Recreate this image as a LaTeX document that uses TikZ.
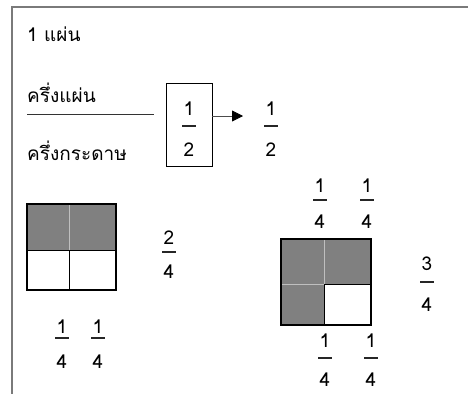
\documentclass[tikz,border=0pt]{standalone}
\usepackage{fontspec}
\setmainfont{Loma}[Script=Thai]
\usetikzlibrary{arrows.meta}
\definecolor{cellgray}{HTML}{808080}
\definecolor{framec}{HTML}{7A7A7A}
\newcommand\fracnode[7]{%
  \node[txt] (#1n) at (#2,#3) {#6};
  \draw[barline] (#2-7,#4) -- (#2+7,#4);
  \node[txt] (#1d) at (#2,#5) {#7};}
\begin{document}
\begin{tikzpicture}[x=1pt,y=-1pt,
  txt/.style={inner sep=0pt,font=\fontsize{19}{22}\selectfont},
  barline/.style={line width=1.3pt,black!85},
  sq/.style={line width=1.3pt,black},
  inner/.style={line width=0.7pt,black},
  innerw/.style={line width=0.8pt,white!75!black}]
\useasboundingbox (0,0) rectangle (468,394);
\draw[framec,line width=1.5pt] (468,7) -- (12,7) -- (12,394);
% texts
\node[txt,anchor=west] (one) at (27,34) {1 แผ่น};
\node[txt,anchor=west] (half) at (27,93) {ครึ่งแผ่น};
\node[txt,anchor=west] (halfp) at (27,151) {ครึ่งกระดาษ};
\draw[black!80,line width=0.8pt] (27,114) -- (154,114);
% box with 1/2
\node[draw,line width=0.8pt,minimum width=46,minimum height=83,inner sep=0pt] (box) at (189,124.5) {};
\fracnode{bx}{189}{109}{126}{150}{1}{2}
\coordinate (arrend) at (243,116);
\draw[black!70,line width=0.8pt,-{Triangle[length=11,width=11,fill=black,color=black]}] (box.east |- arrend) -- (arrend);
\fracnode{hr}{271}{109}{126}{150}{1}{2}
% left square
\fill[cellgray] (27,204) rectangle (116,250);
\draw[innerw] (69,204) -- (69,250);
\draw[inner] (27,250) -- (116,250);
\draw[inner] (69,250) -- (69,290);
\draw[sq] (27,204) rectangle (116,290);
\fracnode{lf}{169}{238}{252}{272}{2}{4}
\fracnode{la}{62}{327}{338}{362}{1}{4}
\fracnode{lb}{98}{327}{338}{362}{1}{4}
% right square
\fill[cellgray] (281,239) rectangle (371,284);
\fill[cellgray] (281,284) rectangle (324,325);
\draw[innerw] (324,239) -- (324,284);
\draw[innerw] (281,284) -- (324,284);
\draw[inner] (324,284) -- (371,284);
\draw[inner] (324,284) -- (324,325);
\draw[sq] (281,239) rectangle (371,325);
\fracnode{ta}{320}{186}{200}{222}{1}{4}
\fracnode{tb}{367}{186}{200}{222}{1}{4}
\fracnode{rf}{427}{264}{282}{305}{3}{4}
\fracnode{ba}{325}{341}{358}{380}{1}{4}
\fracnode{bb}{371}{341}{358}{380}{1}{4}
\end{tikzpicture}
\end{document}
